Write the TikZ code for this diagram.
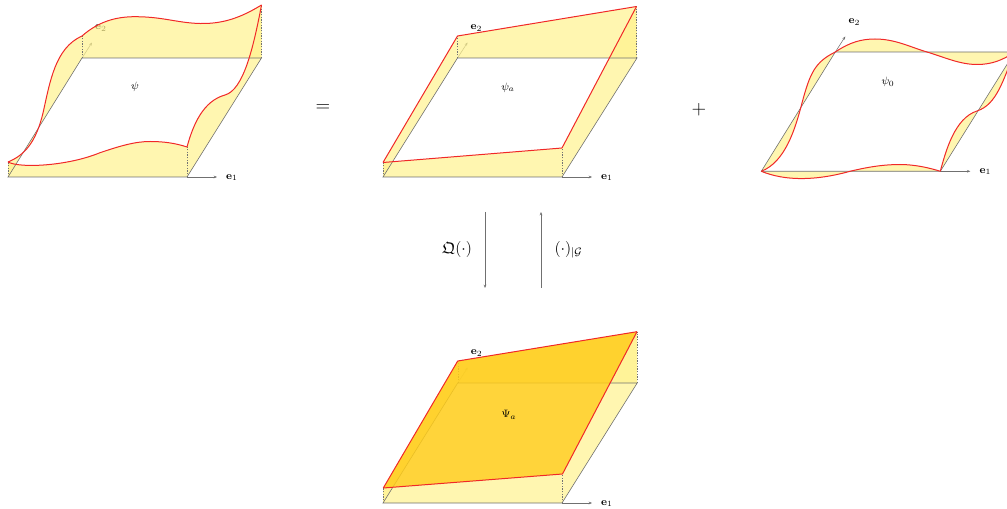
\documentclass[tikz,border=0pt]{standalone}
\usepackage{amsmath, amssymb}
\usetikzlibrary{arrows.meta, positioning}
\definecolor{mWall}{HTML}{FFF28E}
\definecolor{mGold}{HTML}{FFCC18}
\definecolor{mRed}{HTML}{F02828}
\definecolor{mAxis}{HTML}{707070}
% name / front curve / left curve / top curve / right curve
\newcommand{\panelwalls}[5]{
  \fill[wall] (#1-sw) -- #2 -- (#1-se) -- cycle;
  \fill[wall] (#1-sw) -- #3 -- (#1-nw) -- cycle;
  \fill[wall] (#1-nw) -- #4 -- (#1-ne) -- cycle;
  \fill[wall] (#1-se) -- #5 -- (#1-ne) -- cycle;
  \draw[base] (#1-sw) -- (#1-se) -- (#1-ne) -- (#1-nw) -- cycle;
}
\newcommand{\panelsurface}[4]{
  \draw[surface] #1;
  \draw[surface] #2;
  \draw[surface] #3;
  \draw[surface] #4;
}
% the wavy surface of psi
\newcommand{\psifront}{(8,162) .. controls (20,168.5) and (68,166) .. (100,152.7)
  .. controls (120,146) and (135,141.5) .. (150,141.5) .. controls (163,141.5) and (175,143) .. (187,147)}
\newcommand{\psileft}{(8,162) .. controls (25,155) and (36,142) .. (43,113) .. controls (50,82) and (55,48) .. (82,36)}
\newcommand{\psitop}{(82,36) .. controls (98,22) and (115,16.7) .. (135,16.7)
  .. controls (165,16.7) and (180,24) .. (205,23.5) .. controls (228,23) and (245,15) .. (261.5,5)}
\newcommand{\psiright}{(187,147) .. controls (193,125) and (203,101) .. (225,95) .. controls (243,90) and (253,50) .. (261.5,5)}
% the wavy surface of psi_0
\newcommand{\zerofront}{(761.3,171.3) .. controls (785,181) and (815,181) .. (850,171.3)
  .. controls (870,166.5) and (885,164.5) .. (900,164.5) .. controls (915,164.5) and (930,168) .. (940.3,171.3)}
\newcommand{\zeroleft}{(761.3,171.3) .. controls (785,162) and (795,130) .. (802,103) .. controls (810,73) and (815,62) .. (835.3,52)}
\newcommand{\zerotop}{(835.3,52) .. controls (850,42) and (862,39) .. (875,39) .. controls (895,39) and (910,47) .. (927,52)
  .. controls (945,57.5) and (960,64.5) .. (977,64.5) .. controls (992,64.5) and (1003,60) .. (1014.8,52)}
\newcommand{\zeroright}{(940.3,171.3) .. controls (946,150) and (955,118) .. (977,111) .. controls (997,104.5) and (1003,80) .. (1014.8,52)}
\begin{document}
\begin{tikzpicture}[x=0.75pt, y=-0.75pt,
      every node/.style={font=\footnotesize, inner sep=1pt},
      wall/.style={fill=mWall, fill opacity=0.7},
      base/.style={mAxis, line width=0.45pt},
      axis/.style={mAxis, line width=0.4pt, -{Stealth[length=2.5pt, width=2pt]}},
      surface/.style={mRed, line width=0.75pt, line join=round},
      post/.style={black!55, line width=0.3pt, dash pattern=on 1pt off 1pt},
      bigsym/.style={font=\Large}]
    \useasboundingbox (0,0) rectangle (1007,509);
    % corners of the base of each panel: a = psi, b = psi_a, c = psi_0, d = Psi_a
    \foreach \p/\xa/\ya/\xb/\yb in {
        a/8/177/82/58, b/383/177/457.5/58, c/761.3/171.3/835.3/52, d/383/503/457.7/383} {
      \coordinate (\p-sw) at (\xa,\ya);
      \coordinate (\p-se) at (\xa+179,\ya);
      \coordinate (\p-nw) at (\xb,\yb);
      \coordinate (\p-ne) at (\xb+179.5,\yb);
      \coordinate (\p-xtip) at (\xa+209,\ya);
      \coordinate (\p-ytip) at (\xb+10,\yb-15.5);
      \node (\p-xlabel) at (\xa+224,\ya+0.5) {$\mathbf{e}_1$};
      \node (\p-ylabel) at (\xb+19,\yb-30) {$\mathbf{e}_2$};
      \draw[axis] (\p-se) -- (\p-xtip);
      \draw[axis] (\p-nw) -- (\p-ytip);
    }
    \node (psi) at (135,87) {$\psi$};
    \node (psia) at (508,88) {$\psi_a$};
    \node (psizero) at (888,82) {$\psi_0$};
    % walls
    \panelwalls{a}{\psifront}{\psileft}{\psitop}{\psiright}
    \panelwalls{b}{(383,162.5) -- (562,148)}{(383,162.5) -- (457.5,36)}{(457.5,36) -- (636.5,6.5)}{(562,148) -- (636.5,6.5)}
    \panelwalls{c}{\zerofront}{\zeroleft}{\zerotop}{\zeroright}
    \panelwalls{d}{(383.3,488) -- (562.5,474)}{(383.3,488) -- (457.7,361)}{(457.7,361) -- (637,331.7)}{(562.5,474) -- (637,331.7)}
    % x front / y front / x right / y right of surface / x back left / y of it / x back right / y back / y of it
    \foreach \p/\xa/\ya/\ha/\xb/\hb/\xc/\hc/\xd/\yd/\hd in {
        a/8/177/162/187/147/82/36/261.5/58/5,
        b/383/177/162.5/562/148/457.5/36/636.5/58/6.5,
        d/383/503/488/562.5/474/457.7/361/637/383/331.7} {
      \draw[post] (\xa,\ya) -- (\xa,\ha);
      \draw[post] (\xb,\ya) -- (\xb,\hb);
      \draw[post] (\xc,\yd) -- (\xc,\hc);
      \draw[post] (\xd,\yd) -- (\xd,\hd);
    }
    \fill[mGold, fill opacity=0.85] (383.3,488) -- (457.7,361) -- (637,331.7) -- (562.5,474) -- cycle;
    \node (bigpsia) at (509,415) {$\Psi_a$};
    % red surfaces
    \panelsurface{\psifront}{\psileft}{\psitop}{\psiright}
    \panelsurface{(383,162.5) -- (562,148)}{(383,162.5) -- (457.5,36)}{(457.5,36) -- (636.5,6.5)}{(562,148) -- (636.5,6.5)}
    \panelsurface{\zerofront}{\zeroleft}{\zerotop}{\zeroright}
    \panelsurface{(383.3,488) -- (562.5,474)}{(383.3,488) -- (457.7,361)}{(457.7,361) -- (637,331.7)}{(562.5,474) -- (637,331.7)}
    % operators between the panels
    \node[bigsym] (equals) at (323,108) {$=$};
    \node[bigsym] (plus) at (699,110) {$+$};
    \coordinate (downtop) at (485,212);
    \coordinate (downend) at (485,288);
    \coordinate (uptop) at (541,212);
    \coordinate (upend) at (541,288);
    \draw[axis] (downtop) -- (downend);
    \draw[axis] (upend) -- (uptop);
    \node[font=\large] (project) at (457,250) {$\mathfrak{Q}(\cdot)$};
    \node[font=\large] (restrict) at (568.5,250) {$(\cdot)_{|\mathcal{G}}$};
  \end{tikzpicture}
\end{document}
